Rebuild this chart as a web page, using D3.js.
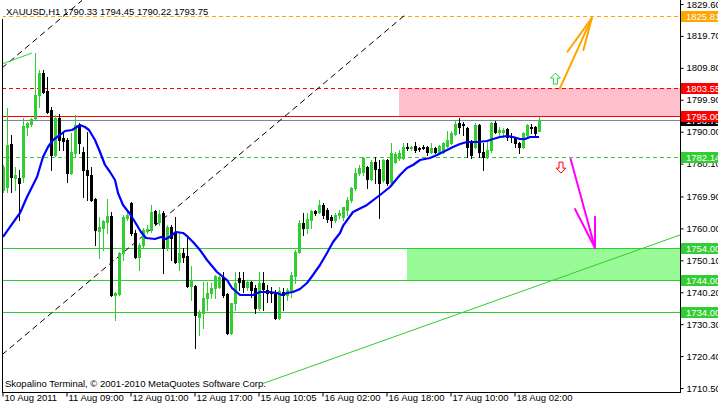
<!DOCTYPE html>
<html><head><meta charset="utf-8">
<script src="https://cdn.jsdelivr.net/npm/d3@7"></script>
<style>
body{margin:0;background:#fff;}
svg{display:block;}
text{font-family:"Liberation Sans",Arial,sans-serif;}
</style></head><body>
<svg id="c" width="718" height="408"></svg>
<script>
// ---------------- DATA ----------------
const symbolTitle = "XAUUSD,H1";
const headerOHLC = [1790.33, 1794.45, 1790.22, 1793.75];
const footerText = "Skopalino Terminal, \u00A9 2001-2010 MetaQuotes Software Corp.";

const opens = [1771.91,1772.84,1786.18,1775.63,1775.63,1775.94,1791.45,1792.38,1794.24,1801.38,
1808.20,1802.62,1796.72,1782.77,1794.24,1788.04,1787.42,1777.18,1783.40,1792.07,
1783.70,1778.12,1776.57,1769.11,1759.20,1760.13,1761.99,1763.85,1739.35,1739.66,
1752.37,1763.23,1767.88,1758.58,1751.13,1754.85,1759.20,1759.50,1765.40,1761.99,
1764.78,1753.92,1760.44,1758.89,1749.58,1752.37,1751.44,1742.14,1742.14,1732.52,
1733.77,1738.42,1739.97,1741.52,1741.83,1744.93,1739.66,1727.56,1736.86,1744.62,
1744.00,1741.83,1743.38,1741.52,1735.31,1743.07,1740.90,1740.28,1739.97,1732.21,
1740.28,1739.35,1740.28,1745.24,1752.68,1761.68,1760.13,1762.61,1765.40,1765.09,
1767.26,1765.71,1763.54,1762.61,1764.16,1763.54,1765.71,1768.81,1772.53,1777.18,
1777.49,1779.05,1775.32,1780.60,1778.43,1775.01,1781.22,1774.39,1780.60,1781.84,
1781.84,1785.25,1784.94,1785.56,1784.94,1785.25,1785.25,1783.70,1784.94,1783.70,
1783.70,1785.56,1786.49,1789.28,1792.69,1792.38,1791.14,1786.80,1785.25,1792.07,
1783.70,1782.15,1784.32,1792.69,1789.90,1789.90,1790.83,1788.66,1788.04,1786.49,
1785.25,1788.97,1791.45,1791.45,1790.33];
const highs = [1779.67,1797.34,1788.97,1779.05,1778.12,1794.24,1793.00,1794.24,1814.40,1809.13,
1809.13,1806.96,1797.65,1795.17,1795.48,1789.59,1788.04,1789.59,1795.17,1792.69,
1785.25,1789.90,1779.05,1769.43,1763.54,1762.61,1769.11,1765.09,1740.28,1752.70,
1764.16,1765.71,1768.20,1759.50,1755.49,1760.13,1761.06,1767.26,1765.71,1765.71,
1765.40,1761.06,1761.06,1763.54,1758.89,1753.92,1757.03,1748.34,1742.45,1734.69,
1743.38,1743.38,1743.07,1745.55,1745.30,1746.48,1739.97,1737.00,1746.48,1746.48,
1746.48,1744.00,1743.70,1742.45,1746.48,1746.48,1742.45,1741.83,1740.90,1741.83,
1741.52,1741.52,1746.48,1753.30,1762.61,1764.78,1764.78,1765.71,1765.71,1768.81,
1767.88,1766.33,1764.16,1764.78,1765.71,1766.64,1769.74,1772.84,1778.73,1779.67,
1782.15,1779.36,1781.22,1782.15,1781.22,1781.53,1781.53,1786.49,1783.70,1784.32,
1786.49,1786.49,1785.56,1786.80,1785.25,1785.87,1785.56,1786.49,1785.25,1785.87,
1786.80,1790.21,1790.21,1793.62,1794.24,1793.00,1791.45,1787.42,1792.69,1792.30,
1786.49,1786.80,1793.00,1793.31,1791.45,1791.14,1791.00,1789.59,1788.35,1786.80,
1789.90,1792.38,1792.38,1791.76,1794.45];
const lows = [1771.29,1771.29,1771.29,1771.91,1762.61,1774.39,1788.97,1791.76,1793.93,1797.65,
1802.00,1795.80,1778.12,1782.50,1784.32,1784.32,1774.39,1776.90,1782.15,1783.40,
1769.74,1768.81,1768.50,1754.85,1750.82,1753.30,1758.58,1739.00,1731.59,1739.30,
1750.20,1762.61,1757.96,1750.90,1747.10,1754.20,1758.58,1758.89,1761.40,1761.06,
1746.17,1753.30,1750.20,1749.30,1747.10,1749.58,1741.80,1737.80,1722.91,1726.94,
1729.07,1734.69,1738.42,1738.42,1741.50,1738.73,1727.30,1727.29,1734.69,1740.90,
1740.28,1740.90,1738.73,1733.77,1734.69,1734.69,1737.17,1737.17,1731.90,1731.90,
1734.69,1737.80,1738.73,1743.07,1752.37,1757.96,1758.58,1760.13,1764.16,1764.78,
1763.23,1761.99,1760.44,1761.99,1763.23,1762.61,1764.16,1768.20,1771.91,1776.57,
1776.57,1772.53,1775.01,1774.08,1763.23,1774.39,1773.46,1774.08,1780.29,1781.22,
1781.53,1784.32,1784.32,1783.70,1784.01,1784.63,1782.77,1783.40,1783.40,1783.40,
1783.40,1785.25,1786.18,1788.97,1789.59,1788.97,1782.15,1781.84,1784.94,1782.15,
1778.12,1781.90,1783.70,1789.59,1788.35,1788.35,1787.42,1786.80,1785.25,1783.40,
1785.00,1788.66,1789.59,1788.97,1790.22];
const closes = [1779.05,1785.87,1775.94,1776.57,1774.08,1791.76,1792.69,1793.93,1801.38,1808.20,
1802.31,1796.10,1782.77,1794.24,1787.42,1787.11,1777.18,1783.70,1792.07,1786.49,
1778.12,1776.57,1768.81,1759.50,1760.44,1762.30,1763.85,1739.35,1739.97,1752.37,
1763.54,1764.16,1758.58,1751.13,1754.85,1759.50,1759.82,1765.09,1761.68,1764.47,
1753.92,1760.44,1757.03,1749.58,1752.37,1751.13,1742.14,1743.69,1733.14,1733.77,
1738.42,1739.97,1741.52,1745.24,1744.93,1739.35,1727.56,1736.86,1743.07,1743.38,
1741.83,1743.38,1740.90,1735.31,1743.07,1741.21,1739.97,1739.97,1732.21,1740.59,
1739.35,1740.90,1745.55,1752.68,1761.68,1760.13,1762.92,1765.40,1764.78,1767.26,
1764.16,1762.92,1762.61,1764.16,1764.78,1766.64,1768.81,1772.53,1777.18,1778.73,
1781.84,1775.32,1780.60,1778.43,1774.08,1781.22,1774.08,1783.40,1783.08,1783.40,
1785.25,1784.94,1785.25,1784.32,1784.63,1784.94,1783.70,1784.94,1783.70,1785.56,
1786.49,1787.42,1789.59,1792.38,1791.45,1792.07,1785.25,1782.77,1792.07,1783.70,
1782.15,1784.32,1792.69,1789.90,1790.52,1790.52,1788.35,1788.35,1786.49,1785.25,
1789.59,1792.07,1791.14,1789.59,1793.75];

// moving average: bar position, value
const maBars = [0,3,4.25,6,7.25,8.5,10,11.25,12.5,14.25,15.5,17.25,19.25,20.5,21.5,23,24.25,25.5,26.75,28,
28.75,30,31.75,33,34.5,35.75,38,39.5,40.75,42,43.25,45,46.25,47.5,49.25,51,53.5,56,57.25,59.25,
62.5,64.25,66.75,68.5,69.75,71,72.5,74.25,76,77.5,79.25,81,82.5,84.25,85,87.5,91,94.25,96.75,99.25,
101,102.5,104.25,106.75,108.5,111,112.5,114.25,116,118.5,121,122.5,124.25,126,127.5,129.25,130.5,131.75,134];
const maValues = [1757.34,1762.61,1764.78,1769.74,1772.84,1775.94,1782.15,1785.25,1787.42,1788.97,1790.21,1790.52,1792.07,1791.45,1790.52,1787.42,1783.70,1779.67,1777.49,1775.01,
1770.98,1767.26,1764.47,1761.99,1758.89,1757.03,1756.72,1757.34,1756.72,1757.65,1758.89,1758.58,1757.34,1755.79,1753.30,1750.20,1746.48,1744.00,1741.52,1739.35,
1739.35,1740.28,1740.28,1739.97,1739.35,1739.97,1740.28,1741.21,1743.07,1745.55,1748.65,1752.37,1755.79,1758.58,1760.75,1765.09,1767.26,1770.36,1772.84,1776.57,
1778.73,1779.67,1781.22,1781.84,1782.77,1784.32,1785.25,1786.18,1786.80,1786.80,1787.11,1787.73,1788.35,1788.66,1788.35,1787.73,1787.73,1788.35,1788.35];

const yTickValues = [1829.60,1819.70,1809.80,1799.90,1790.00,1780.10,1769.90,1760.00,1750.10,1740.20,1730.30,1720.40,1710.50];
const xTickBars = [0,16,32,48,64,80,96,112,128];
const xTickLabels = ["10 Aug 2011","11 Aug 09:00","12 Aug 01:00","12 Aug 17:00","15 Aug 10:05","16 Aug 02:00","16 Aug 18:00","17 Aug 10:00","18 Aug 02:00"];

// horizontal levels
const levelPrices = [1825.81, 1803.55, 1795.00, 1782.14, 1754.00, 1744.00, 1734.00];
const levelNames  = ["target","resistTop","resistBottom","pivot","supportTop","supportBottom","support2"];
const bidPrice = 1793.75;

// zones: [startBar, lowPrice, highPrice]
const resistanceZone = [99, 1795.00, 1803.55];
const supportZone = [101, 1744.00, 1754.00];

// trend lines: [bar1, price1, bar2, price2]
const channelUpperBlack = [-0.25, 1809.75, 19.75, 1830.71];
const channelLowerBlack = [-0.25, 1720.80, 100.5, 1826.19];
const channelUpperGreen = [-0.25, 1811.00, 7.25, 1814.40];
const channelLowerGreen = [65, 1711.90, 175, 1760.50];

// arrows: shaft [bar,price]->[bar,price], two barbs end points
const upArrowShaft = [139.25, 1803.55, 147.2, 1825.2];
const upArrowBarbs = [141.1, 1814.8, 145.1, 1815.3];
const downArrowShaft = [141.9, 1781.5, 148.0, 1753.9];
const downArrowBarbs = [143.0, 1766.0, 148.0, 1763.6];
const upSignal = [138.1, 1806.3];
const downSignal = [139.5, 1779.0];

// ---------------- CHART ----------------
const W = 718, H = 408;
const plotLeft = 2, plotRight = 680, plotBottom = 392;
const svg = d3.select("#c");

const x = d3.scaleLinear().domain([0, 134]).range([3, 539]);
const y = d3.scaleLinear().domain([1710.5, 1829.6]).range([388, 4]);

const candles = opens.map((o, i) => ({i, o, h: highs[i], l: lows[i], c: closes[i]}));

svg.append("defs").append("clipPath").attr("id", "plotclip")
  .append("rect").attr("x", plotLeft + 1).attr("y", 0).attr("width", plotRight - plotLeft - 1).attr("height", plotBottom);

const plot = svg.append("g").attr("clip-path", "url(#plotclip)");

// zones
function zone(z, color) {
  plot.append("rect")
    .attr("x", x(z[0])).attr("y", y(z[2]))
    .attr("width", plotRight - x(z[0])).attr("height", y(z[1]) - y(z[2]))
    .attr("fill", color).attr("shape-rendering", "crispEdges");
}
zone(resistanceZone, "#ffc0cb");
zone(supportZone, "#98fb98");

// horizontal level lines
const levelStyle = {
  target: {color: "#ffa500", dash: "4,3"},
  resistTop: {color: "#ff0000", dash: "4,3"},
  resistBottom: {color: "#ff0000", dash: null},
  pivot: {color: "#32cd32", dash: "4,3"},
  supportTop: {color: "#32cd32", dash: null},
  supportBottom: {color: "#32cd32", dash: null},
  support2: {color: "#32cd32", dash: null}
};
// bid line
plot.append("line").attr("x1", plotLeft).attr("x2", plotRight)
  .attr("y1", Math.round(y(bidPrice)) + 0.5).attr("y2", Math.round(y(bidPrice)) + 0.5)
  .attr("stroke", "#778899").attr("stroke-width", 1);
levelPrices.forEach((p, k) => {
  const st = levelStyle[levelNames[k]];
  const yy = Math.round(y(p)) + 0.5;
  plot.append("line").attr("x1", plotLeft).attr("x2", plotRight)
    .attr("y1", yy).attr("y2", yy)
    .attr("stroke", st.color).attr("stroke-width", 1)
    .attr("stroke-dasharray", st.dash);
});

// trend lines
function tline(t, color, dash, w) {
  plot.append("line")
    .attr("x1", x(t[0])).attr("y1", y(t[1]))
    .attr("x2", x(t[2])).attr("y2", y(t[3]))
    .attr("stroke", color).attr("stroke-width", w || 1)
    .attr("stroke-dasharray", dash);
}
tline(channelUpperBlack, "#000", "6,4");
tline(channelLowerBlack, "#000", "6,4");
tline(channelUpperGreen, "#32cd32", null);
tline(channelLowerGreen, "#32cd32", null);

// candles
const cg = plot.append("g").attr("shape-rendering", "crispEdges");
candles.forEach(d => {
  const cx = Math.round(x(d.i));
  const bull = d.c >= d.o;
  const col = bull ? "#32cd32" : "#000000";
  cg.append("line").attr("x1", cx + 0.5).attr("x2", cx + 0.5)
    .attr("y1", Math.round(y(d.h))).attr("y2", Math.round(y(d.l)) + 1)
    .attr("stroke", col).attr("stroke-width", 1);
  const top = Math.round(y(Math.max(d.o, d.c)));
  const bot = Math.round(y(Math.min(d.o, d.c)));
  cg.append("rect").attr("x", cx - 1).attr("y", top)
    .attr("width", 3).attr("height", Math.max(1, bot - top + 1))
    .attr("fill", col);
});

// moving average
plot.append("path")
  .datum(maBars.map((b, k) => [b, maValues[k]]))
  .attr("d", d3.line().x(d => x(d[0])).y(d => y(d[1])))
  .attr("fill", "none").attr("stroke", "#0000ff").attr("stroke-width", 2.2)
  .attr("stroke-linejoin", "round");

// arrows
function arrow(shaft, barbs, color) {
  const tip = [x(shaft[2]), y(shaft[3])];
  const g = plot.append("g").attr("stroke", color).attr("stroke-width", 2).attr("fill", "none").attr("stroke-linecap", "round");
  g.append("line").attr("x1", x(shaft[0])).attr("y1", y(shaft[1])).attr("x2", tip[0]).attr("y2", tip[1]);
  g.append("line").attr("x1", x(barbs[0])).attr("y1", y(barbs[1])).attr("x2", tip[0]).attr("y2", tip[1]);
  g.append("line").attr("x1", x(barbs[2])).attr("y1", y(barbs[3])).attr("x2", tip[0]).attr("y2", tip[1]);
}
arrow(upArrowShaft, upArrowBarbs, "#ffa500");
arrow(downArrowShaft, downArrowBarbs, "#ff00ff");

// small hollow signal arrows
function signal(s, up, color) {
  const cx = x(s[0]), cy = y(s[1]);
  const pts = up
    ? [[0,-6],[5,-1],[2,-1],[2,5],[-2,5],[-2,-1],[-5,-1]]
    : [[0,6],[5,1],[2,1],[2,-5],[-2,-5],[-2,1],[-5,1]];
  plot.append("polygon")
    .attr("points", pts.map(p => [cx + p[0], cy + p[1]].join(",")).join(" "))
    .attr("fill", "#fff").attr("stroke", color).attr("stroke-width", 1);
}
signal(upSignal, true, "#32cd32");
signal(downSignal, false, "#ff0000");

// frame
svg.append("line").attr("x1", plotLeft + 0.5).attr("x2", plotLeft + 0.5).attr("y1", 19).attr("y2", plotBottom + 0.5).attr("stroke", "#000");
svg.append("line").attr("x1", plotLeft).attr("x2", plotRight + 1).attr("y1", plotBottom + 0.5).attr("y2", plotBottom + 0.5).attr("stroke", "#000");

// right axis
const yAxis = svg.append("g").attr("transform", `translate(${plotRight + 0.5},0)`)
  .call(d3.axisRight(y).tickValues(yTickValues).tickSize(3).tickPadding(3).tickFormat(d3.format(".2f")));
yAxis.select(".domain").attr("d", `M0,0V${plotBottom + 0.5}`).attr("stroke", "#000");
yAxis.selectAll("text").attr("font-size", 9.5).attr("font-family", "Liberation Sans, Arial, sans-serif").attr("fill", "#000");

// price labels on axis
function priceLabel(p, color) {
  const yy = Math.round(y(p));
  svg.append("rect").attr("x", plotRight + 1).attr("y", yy - 5).attr("width", W - plotRight).attr("height", 11).attr("fill", color);
  svg.append("text").attr("x", plotRight + 6).attr("y", yy + 4).attr("font-size", 9.5).attr("fill", "#fff").text(d3.format(".2f")(p));
}
priceLabel(bidPrice, "#000");
levelPrices.forEach((p, k) => priceLabel(p, levelStyle[levelNames[k]].color));

// bottom axis
const xAxis = svg.append("g").attr("transform", `translate(0,${plotBottom + 0.5})`)
  .call(d3.axisBottom(x).tickValues(xTickBars).tickSize(4).tickFormat((d, k) => xTickLabels[k]));
xAxis.select(".domain").remove();
xAxis.selectAll(".tick line").attr("stroke", "#000").attr("transform", "translate(-0.5,0)");
xAxis.selectAll("text").attr("text-anchor", "start").attr("x", 1).attr("y", 8).attr("dy", 0)
  .attr("font-size", 9.5).attr("font-family", "Liberation Sans, Arial, sans-serif").attr("fill", "#000");

// header and footer
svg.append("text").attr("x", 6).attr("y", 15).attr("font-size", 9.5)
  .text(symbolTitle + "  " + headerOHLC.map(d3.format(".2f")).join(" "));
svg.append("text").attr("x", 5).attr("y", 387).attr("font-size", 9.5).text(footerText);
</script>
</body></html>
